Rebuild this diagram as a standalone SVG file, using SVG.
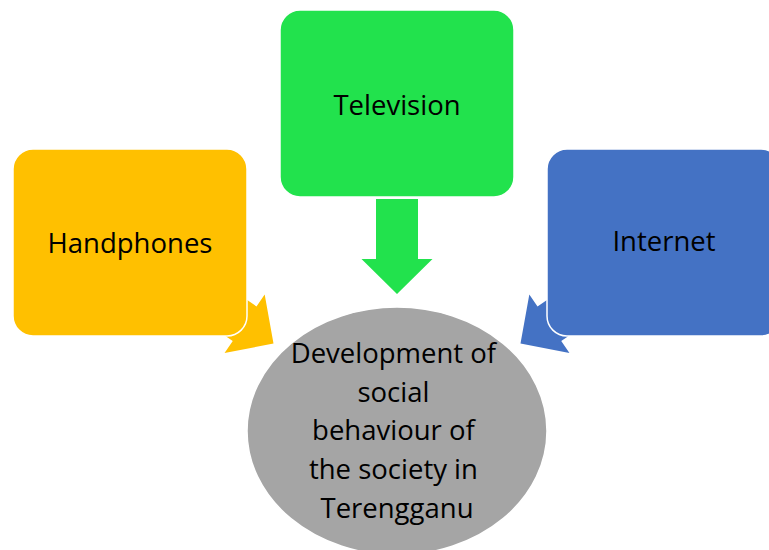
<svg xmlns="http://www.w3.org/2000/svg" width="769" height="550" viewBox="0 0 769 550">
  <defs>
    <style>
      .box { stroke: #ffffff; stroke-width: 1.5; }
      .lbl { font-family: "Open Sans", "Noto Sans", "Liberation Sans", sans-serif; font-size: 27.5px; fill: #000000; text-anchor: middle; }
    </style>
    <path id="blockArrow" d="M -21 -95 H 21 V -35 H 35.5 L 0 0 L -35.5 -35 H -21 Z"/>
  </defs>
  <rect width="769" height="550" fill="#ffffff"/>

  <g id="connectors">
    <use href="#blockArrow" fill="#22E24D" transform="translate(397,294)"/>
    <use href="#blockArrow" fill="#FFC000" transform="translate(273.5,343.5) rotate(-55.6)"/>
    <use href="#blockArrow" fill="#4472C4" transform="translate(520.5,343.5) rotate(55.6)"/>
  </g>

  <g id="node-handphones">
    <rect class="box" x="13" y="149" width="234" height="187" rx="20" ry="20" fill="#FFC000"/>
    <text class="lbl" x="130" y="253">Handphones</text>
  </g>

  <g id="node-television">
    <rect class="box" x="280" y="10" width="234" height="187" rx="20" ry="20" fill="#22E24D"/>
    <text class="lbl" x="397" y="115">Television</text>
  </g>

  <g id="node-internet">
    <rect class="box" x="547" y="149" width="234" height="187" rx="20" ry="20" fill="#4472C4"/>
    <text class="lbl" x="664" y="251">Internet</text>
  </g>

  <g id="node-development">
    <ellipse cx="397" cy="431" rx="150" ry="124" fill="#A5A5A5" stroke="#ffffff" stroke-width="1.5"/>
    <text class="lbl">
      <tspan x="397" y="363">Development of</tspan>
      <tspan x="397" y="401.5">social</tspan>
      <tspan x="397" y="440">behaviour of</tspan>
      <tspan x="397" y="479">the society in</tspan>
      <tspan x="397" y="518">Terengganu</tspan>
    </text>
  </g>
</svg>
